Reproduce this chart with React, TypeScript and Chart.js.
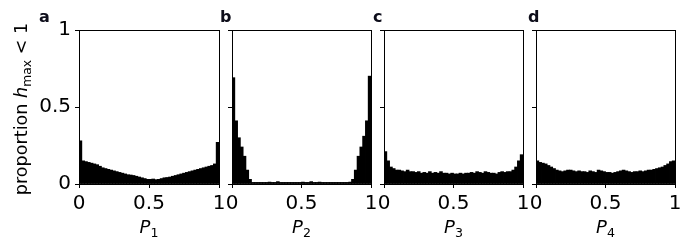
import React, { useEffect, useRef } from "react";
import { Chart, registerables } from "chart.js";

Chart.register(...registerables);

const W = 687;
const H = 244;

// 50 histogram bins on [0, 1]
const binLabels: string[] = Array.from({ length: 50 }, (_, i) => ((i + 0.5) / 50).toFixed(2));

const panelA: number[] = [
  0.28, 0.15, 0.145, 0.14, 0.135, 0.13, 0.125, 0.115, 0.105, 0.10,
  0.095, 0.09, 0.085, 0.08, 0.075, 0.07, 0.065, 0.06, 0.058, 0.055,
  0.05, 0.045, 0.04, 0.035, 0.03, 0.03, 0.032, 0.028, 0.03, 0.035,
  0.04, 0.042, 0.045, 0.05, 0.055, 0.06, 0.065, 0.07, 0.075, 0.08,
  0.085, 0.09, 0.095, 0.10, 0.105, 0.11, 0.115, 0.12, 0.13, 0.27,
];

const panelB: number[] = [
  0.69, 0.41, 0.30, 0.24, 0.18, 0.09, 0.03, 0.01, 0.01, 0.01,
  0.01, 0.01, 0.01, 0.012, 0.01, 0.01, 0.015, 0.01, 0.01, 0.01,
  0.01, 0.01, 0.01, 0.01, 0.01, 0.012, 0.01, 0.01, 0.015, 0.01,
  0.01, 0.012, 0.01, 0.01, 0.01, 0.01, 0.01, 0.01, 0.01, 0.01,
  0.01, 0.01, 0.012, 0.03, 0.09, 0.18, 0.24, 0.31, 0.41, 0.70,
];

const panelC: number[] = [
  0.21, 0.15, 0.11, 0.10, 0.09, 0.09, 0.085, 0.08, 0.09, 0.08,
  0.08, 0.075, 0.08, 0.07, 0.075, 0.07, 0.08, 0.07, 0.075, 0.07,
  0.08, 0.07, 0.07, 0.065, 0.07, 0.065, 0.065, 0.07, 0.065, 0.07,
  0.07, 0.075, 0.07, 0.08, 0.075, 0.07, 0.08, 0.075, 0.07, 0.07,
  0.065, 0.075, 0.08, 0.075, 0.08, 0.08, 0.09, 0.11, 0.15, 0.19,
];

const panelD: number[] = [
  0.15, 0.14, 0.135, 0.13, 0.12, 0.11, 0.10, 0.09, 0.085, 0.08,
  0.085, 0.09, 0.09, 0.085, 0.08, 0.085, 0.08, 0.08, 0.075, 0.085,
  0.08, 0.075, 0.09, 0.085, 0.08, 0.075, 0.075, 0.07, 0.075, 0.08,
  0.085, 0.09, 0.085, 0.08, 0.075, 0.08, 0.08, 0.085, 0.08, 0.085,
  0.09, 0.09, 0.095, 0.10, 0.105, 0.11, 0.12, 0.13, 0.145, 0.15,
];

const tickValues: number[] = [0, 0.5, 1];
const tickLabels: string[] = ["0", "0.5", "1"];
const panelLetters: string[] = ["a", "b", "c", "d"];
const panelSubs: string[] = ["1", "2", "3", "4"];
const panelData: number[][] = [panelA, panelB, panelC, panelD];

// layout (pixels)
const plotLefts = [79, 232, 384, 536];
const plotRights = [219, 371, 523, 675];
const letterOffsets = [-40, -12, -11, -8];
const TOP = 30;
const BOTTOM = 184;
const YW = 60;
const XH = 32;
const FONT = "DejaVu Sans";
const FS = 17.6;
const TFS = 20;

function drawSegments(ctx: CanvasRenderingContext2D, segs: { t: string; f: string; dy: number }[], x: number, y: number) {
  let total = 0;
  for (const s of segs) {
    ctx.font = s.f;
    total += ctx.measureText(s.t).width;
  }
  let cx = x - total / 2;
  for (const s of segs) {
    ctx.font = s.f;
    ctx.fillText(s.t, cx, y + s.dy);
    cx += ctx.measureText(s.t).width;
  }
}

function makePlugin(idx: number) {
  return {
    id: "decor" + idx,
    afterDraw(chart: any) {
      const { ctx, chartArea } = chart;
      const { left, right, top, bottom } = chartArea;
      ctx.save();
      ctx.strokeStyle = "#000";
      ctx.lineWidth = 1;
      ctx.strokeRect(Math.round(left) + 0.5, Math.round(top) + 0.5, Math.round(right - left), Math.round(bottom - top));
      ctx.fillStyle = "#000";
      ctx.textBaseline = "alphabetic";
      ctx.textAlign = "left";
      // x title
      drawSegments(
        ctx,
        [
          { t: "P", f: `italic 18px ${FONT}`, dy: 0 },
          { t: panelSubs[idx], f: `12.6px ${FONT}`, dy: 4 },
        ],
        (left + right) / 2,
        233
      );
      // panel letter
      ctx.font = `bold 16px ${FONT}`;
      ctx.fillStyle = "#0d0d1a";
      ctx.fillText(panelLetters[idx], left + letterOffsets[idx], 22);
      ctx.fillStyle = "#000";
      // y title
      if (idx === 0) {
        ctx.translate(27, (top + bottom) / 2 + 2);
        ctx.rotate(-Math.PI / 2);
        drawSegments(
          ctx,
          [
            { t: "proportion ", f: `${FS}px ${FONT}`, dy: 0 },
            { t: "h", f: `italic ${FS}px ${FONT}`, dy: 0 },
            { t: "max", f: `${FS * 0.7}px ${FONT}`, dy: 4 },
            { t: " < 1", f: `${FS}px ${FONT}`, dy: 0 },
          ],
          0,
          0
        );
      }
      ctx.restore();
    },
  };
}

function Panel({ idx }: { idx: number }) {
  const ref = useRef<HTMLCanvasElement>(null);
  useEffect(() => {
    const canvas = ref.current!;
    const chart = new Chart(canvas, {
      type: "bar",
      data: {
        labels: binLabels,
        datasets: [
          {
            data: panelData[idx],
            backgroundColor: "#000",
            borderWidth: 0,
            barPercentage: 1,
            categoryPercentage: 1,
            inflateAmount: 0.4,
            xAxisID: "x",
            yAxisID: "y",
          } as any,
        ],
      },
      options: {
        animation: false,
        responsive: false,
        maintainAspectRatio: false,
        events: [],
        layout: {
          padding: {
            left: plotLefts[idx] - YW,
            right: W - plotRights[idx],
            top: TOP,
            bottom: H - BOTTOM - XH,
          },
        },
        plugins: {
          legend: { display: false },
          tooltip: { enabled: false },
          title: { display: false },
        },
        scales: {
          x: { type: "category", display: false, offset: true },
          x2: {
            type: "linear",
            position: "bottom",
            offset: false,
            min: 0,
            max: 1,
            afterBuildTicks: (s: any) => {
              s.ticks = tickValues.map((v) => ({ value: v }));
            },
            ticks: {
              callback: (v: any) => tickLabels[tickValues.indexOf(Number(v))],
              font: { family: FONT, size: TFS },
              color: "#000",
              padding: 4,
              maxRotation: 0,
              autoSkip: false,
            },
            grid: { offset: false, drawOnChartArea: false, drawTicks: true, tickLength: 4, color: "#000" },
            border: { display: true, color: "#000", width: 1 },
            afterFit: (s: any) => {
              s.height = XH;
            },
          },
          y: {
            min: 0,
            max: 1,
            afterBuildTicks: (s: any) => {
              s.ticks = tickValues.map((v) => ({ value: v }));
            },
            ticks: {
              display: idx === 0,
              callback: (v: any) => tickLabels[tickValues.indexOf(Number(v))],
              font: { family: FONT, size: TFS },
              color: "#000",
              padding: 4,
              autoSkip: false,
            },
            grid: { drawOnChartArea: false, drawTicks: true, tickLength: 4, color: "#000" },
            border: { display: true, color: "#000", width: 1 },
            afterFit: (s: any) => {
              s.width = YW;
            },
          },
        } as any,
      },
      plugins: [makePlugin(idx)],
    });
    return () => chart.destroy();
  }, [idx]);
  return (
    <canvas
      ref={ref}
      width={W}
      height={H}
      style={{ position: "absolute", left: 0, top: 0, width: W, height: H }}
    />
  );
}

export default function App() {
  return (
    <div style={{ position: "fixed", left: 0, top: 0, width: W, height: H, background: "#fff" }}>
      {[0, 1, 2, 3].map((i) => (
        <Panel key={i} idx={i} />
      ))}
    </div>
  );
}
